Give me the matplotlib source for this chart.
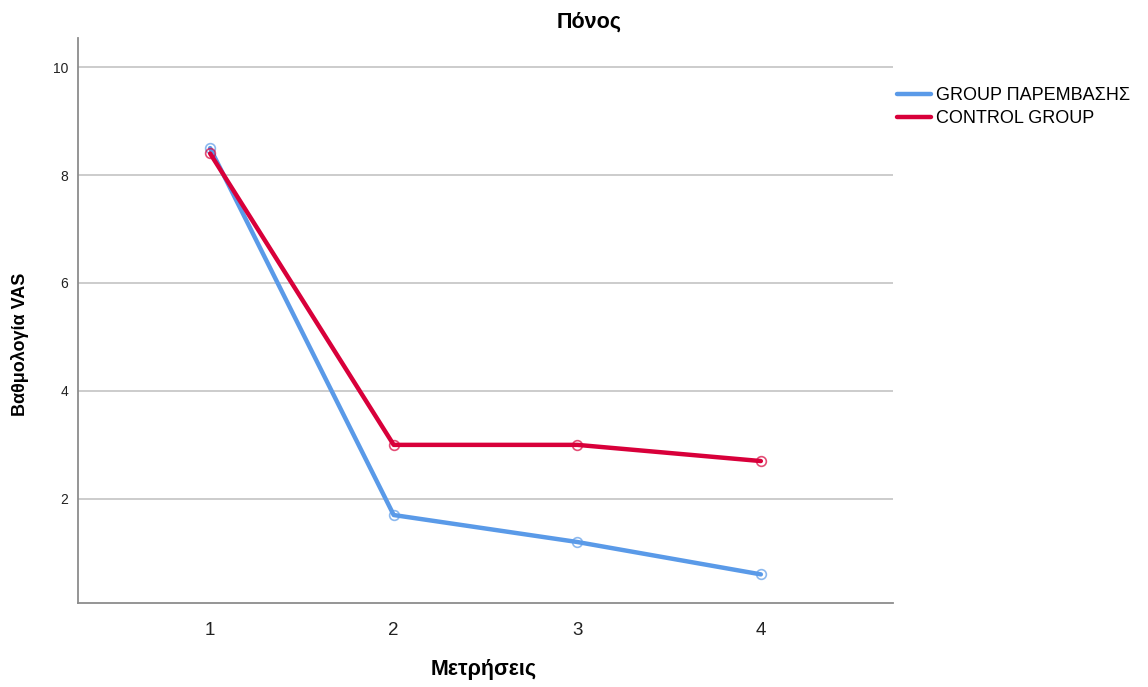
import matplotlib
matplotlib.use("Agg")
from matplotlib import pyplot as plt

plt.rcParams['font.family'] = ['Liberation Sans', 'DejaVu Sans']

measurements = [1, 2, 3, 4]
intervention = [8.5, 1.7, 1.2, 0.6]
control = [8.4, 3.0, 3.0, 2.7]
series_names = ['GROUP ΠΑΡΕΜΒΑΣΗΣ', 'CONTROL GROUP']
blue = '#5a9ae8'
red = '#d8003a'

fig = plt.figure(figsize=(11.48, 6.87), dpi=100)
ax = fig.add_axes([0.0679, 0.1223, 0.71, 0.8224])

for vals, col, name in [(intervention, blue, series_names[0]), (control, red, series_names[1])]:
    ax.plot(measurements, vals, color=col, lw=3.2, label=name, solid_capstyle='round')
    ax.plot(measurements, vals, ls='none', marker='o', ms=7, mfc='none', mec=col,
            mew=1.2, alpha=0.7)

ax.set_xlim(0.28, 4.72)
ax.set_ylim(0.07, 10.54)
ax.set_xticks(measurements)
ax.set_yticks([2, 4, 6, 8, 10])
ax.tick_params(axis='x', length=0, labelsize=13.5, pad=14, colors='#222222')
ax.tick_params(axis='y', length=0, labelsize=10, pad=7, colors='#222222')
ax.yaxis.grid(True, color='#c8c8c8', lw=1.3)
ax.set_axisbelow(True)
for s in ['top', 'right']:
    ax.spines[s].set_visible(False)
for s in ['left', 'bottom']:
    ax.spines[s].set_color('#8c8c8c')
    ax.spines[s].set_linewidth(1.3)

fig.text(589 / 1148, 1 - 22 / 687, 'Πόνος', ha='center', va='center', fontsize=15.5,
         fontweight='bold')
fig.text(484 / 1148, 1 - 670 / 687, 'Μετρήσεις', ha='center', va='center', fontsize=15.5,
         fontweight='bold')
fig.text(20 / 1148, 1 - 344 / 687, 'Βαθμολογία VAS', ha='center', va='center', fontsize=13,
         fontweight='bold', rotation=90)

ax.legend(loc='upper left', bbox_to_anchor=(1.005, 0.913), frameon=False, fontsize=13,
          handlelength=1.85, handletextpad=0.3, labelspacing=0.35, borderaxespad=0,
          borderpad=0)

fig.savefig('out.png', dpi=100)
